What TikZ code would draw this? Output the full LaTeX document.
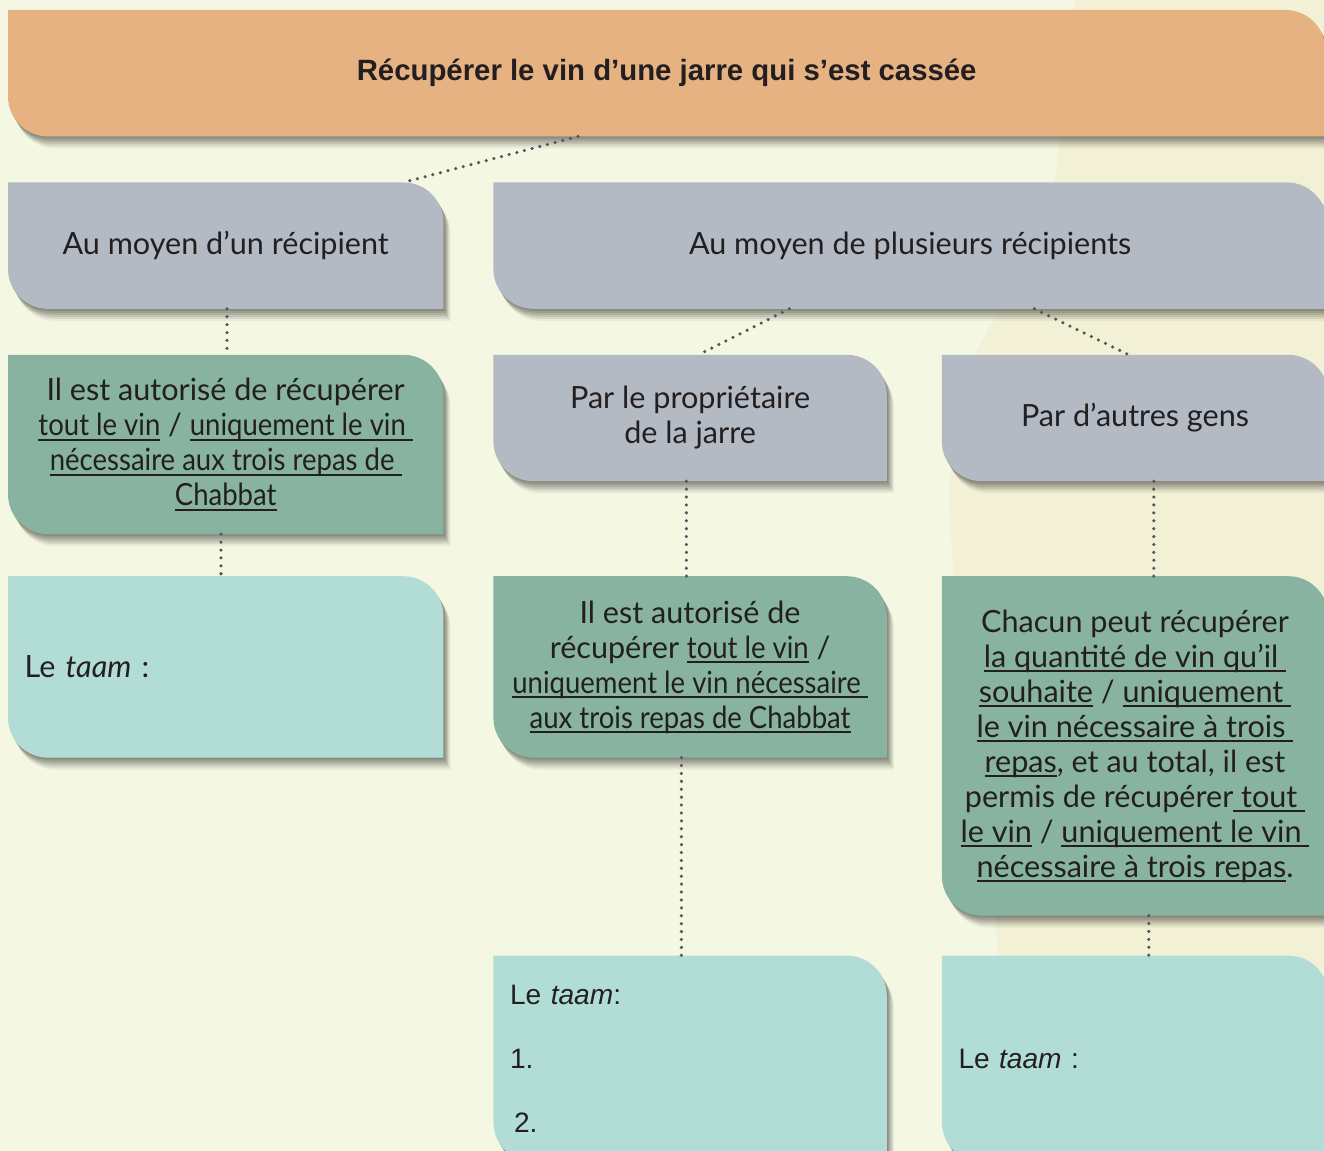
\documentclass[tikz,border=0pt]{standalone}
\usepackage{fontspec}
\setmainfont{Lato}
\newfontfamily\arialfont{Liberation Sans}
\newfontfamily\narrowlato[FakeStretch=0.9]{Lato}
\usepackage{xcolor}
\usetikzlibrary{positioning,backgrounds}
\definecolor{PageBg}{HTML}{F4F7E2}
\definecolor{JarTint}{HTML}{F3F1D5}
\definecolor{TitleOrange}{HTML}{E6B282}
\definecolor{CardGrey}{HTML}{B4BAC4}
\definecolor{CardGreen}{HTML}{87B3A0}
\definecolor{CardMint}{HTML}{B2DDD6}
\definecolor{DotGrey}{HTML}{55555D}
\definecolor{InkDark}{HTML}{231F20}
\newcommand\cardrad{4mm}
\newcommand\undl[1]{\leavevmode\setbox0\hbox{#1}\rlap{\rule[-1.3pt]{\wd0}{0.45pt}}\box0\relax}
\newcommand\undln[1]{\undl{\narrowlato #1}}
\tikzset{
  card/.style={rectangle, inner sep=0pt, align=center, text=InkDark, font=\fontsize{8.7}{9.96}\selectfont},
  titlecard/.style={card, minimum width=131.6mm, minimum height=12.5mm, font=\arialfont\bfseries\fontsize{8.35}{10}\selectfont},
  greycard/.style={card, minimum height=12.5mm},
  mintcard/.style={card, align=left, inner xsep=1.6mm},
  cardshadow/.style={
    preaction={fill=black, opacity=0.1, transform canvas={shift={(0.12mm,-0.2mm)}}},
    preaction={fill=black, opacity=0.1, transform canvas={shift={(0.24mm,-0.4mm)}}},
    preaction={fill=black, opacity=0.1, transform canvas={shift={(0.36mm,-0.6mm)}}},
    preaction={fill=black, opacity=0.09, transform canvas={shift={(0.48mm,-0.8mm)}}},
    preaction={fill=black, opacity=0.07, transform canvas={shift={(0.6mm,-1.0mm)}}},
    preaction={fill=black, opacity=0.05, transform canvas={shift={(0.72mm,-1.2mm)}}}},
  dotlink/.style={draw=DotGrey, line width=1pt, line cap=round, dash pattern=on 0pt off 2.25pt}
}
\begin{document}
\begin{tikzpicture}[x=0.1mm, y=0.1mm]
  \useasboundingbox (0,0) rectangle (1324,-1151);
  \begin{scope}[on background layer]
    \fill[PageBg] (0,0) rectangle (1324,-1151);
    % faint jar in the background
    \fill[JarTint] (1010,-1151) .. controls (1000,-700) and (880,-450) .. (1010,-300)
      .. controls (1060,-240) and (1060,-120) .. (1075,0) -- (1324,0) -- (1324,-1151) -- cycle;
  \end{scope}

  \node[titlecard, anchor=north west] (title) at (8,-10) {Récupérer le vin d’une jarre qui s’est cassée};
  \node[greycard, minimum width=43.4mm, below=4.6mm of title.south west, anchor=north west] (one) {Au moyen d’un récipient};
  \node[greycard, minimum width=83.2mm, right=5mm of one.north east, anchor=north west] (many) {Au moyen de plusieurs récipients};
  \node[card, minimum width=43.4mm, minimum height=17.8mm, below=4.6mm of one.south west, anchor=north west] (allowA)
    {Il est autorisé de récupérer\\ \undln{tout le vin} / \undln{uniquement le vin }\\ \undln{nécessaire aux trois repas de }\\ \undln{Chabbat}};
  \node[greycard, minimum width=39.2mm, below=4.6mm of many.south west, anchor=north west] (owner) {Par le propriétaire\\ de la jarre};
  \node[greycard, minimum width=38.5mm, right=5.5mm of owner.north east, anchor=north west] (others) {Par d’autres gens};
  \node[mintcard, minimum width=43.4mm, text width=40.2mm, minimum height=18mm, below=4.2mm of allowA.south west, anchor=north west] (taamA)
    {Le \textit{taam} :};
  \node[card, minimum width=39.2mm, minimum height=18mm, below=9.5mm of owner.south west, anchor=north west] (allowB)
    {Il est autorisé de\\ récupérer \undln{tout le vin} /\\ \undln{uniquement le vin nécessaire }\\ \undln{aux trois repas de Chabbat}};
  \node[card, minimum width=38.5mm, minimum height=33.8mm, below=9.5mm of others.south west, anchor=north west] (allowC)
    {Chacun peut récupérer\\ \undl{la quantité de vin qu’il }\\ \undl{souhaite} / \undl{uniquement }\\ \undl{le vin nécessaire à trois }\\
     \undl{repas}, et au total, il est\\ permis de récupérer\undl{ tout }\\ \undl{le vin} / \undl{uniquement le vin }\\ \undl{nécessaire à trois repas}.};
  \node[mintcard, minimum width=39.2mm, text width=36mm, minimum height=20.5mm, font=\arialfont\fontsize{8}{18.2}\selectfont,
    below=19.8mm of allowB.south west, anchor=north west] (taamB)
    {Le \textit{taam}:\\ 1.\\ \hspace*{0.4mm}2.};
  \node[mintcard, minimum width=38.5mm, text width=35.3mm, minimum height=20.5mm, font=\arialfont\fontsize{8}{9.6}\selectfont,
    below=4mm of allowC.south west, anchor=north west] (taamC)
    {Le \textit{taam} :};

  \begin{scope}[on background layer]
    \foreach \n/\c in {title/TitleOrange, one/CardGrey, many/CardGrey, owner/CardGrey, others/CardGrey,
        allowA/CardGreen, allowB/CardGreen, allowC/CardGreen, taamA/CardMint, taamB/CardMint, taamC/CardMint}
      \fill[\c, cardshadow] (\n.north west) -- ([xshift=-\cardrad]\n.north east)
        arc[start angle=90, end angle=0, radius=\cardrad] -- (\n.south east)
        -- ([xshift=\cardrad]\n.south west) arc[start angle=270, end angle=180, radius=\cardrad] -- cycle;
  \end{scope}

  \draw[dotlink] ([xshift=57mm]title.south west) -- ([xshift=-4mm]one.north east);
  \draw[dotlink] ([xshift=21.9mm]one.south west) -- ([xshift=21.9mm]allowA.north west);
  \draw[dotlink] ([xshift=21.3mm]allowA.south west) -- ([xshift=21.3mm]taamA.north west);
  \draw[dotlink] ([xshift=29.6mm]many.south west) -- ([xshift=20.5mm]owner.north west);
  \draw[dotlink] ([xshift=54.1mm]many.south west) -- ([xshift=18.7mm]others.north west);
  \draw[dotlink] ([xshift=19.3mm]owner.south west) -- ([xshift=19.3mm]allowB.north west);
  \draw[dotlink] ([xshift=18.8mm]allowB.south west) -- ([xshift=18.8mm]taamB.north west);
  \draw[dotlink] ([xshift=21.2mm]others.south west) -- ([xshift=21.2mm]allowC.north west);
  \draw[dotlink] ([xshift=20.7mm]allowC.south west) -- ([xshift=20.7mm]taamC.north west);
\end{tikzpicture}
\end{document}
